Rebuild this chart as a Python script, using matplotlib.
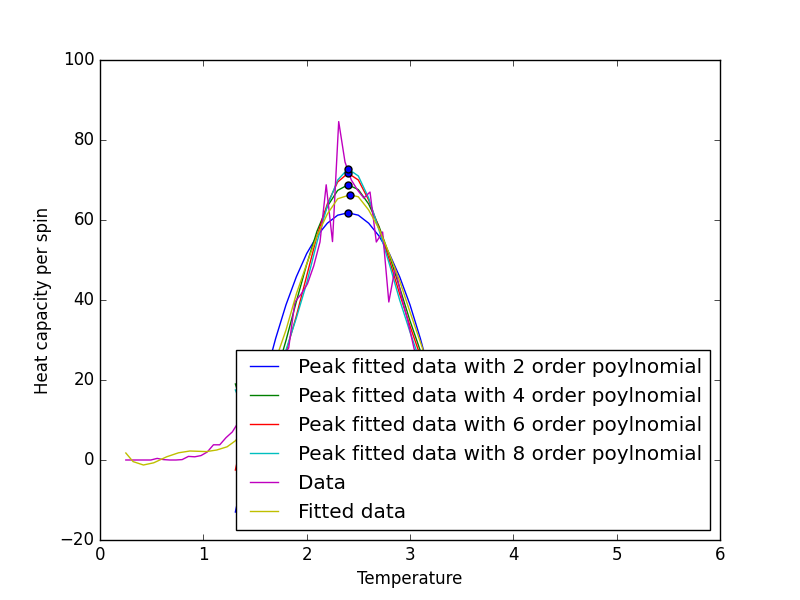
import matplotlib
matplotlib.use("Agg")
import matplotlib.pyplot as plt

plt.style.use("classic")

# Measured data (temperature grid and heat capacity per spin)
T_data = [0.25, 0.311, 0.371, 0.432, 0.492, 0.553, 0.614, 0.674, 0.735, 0.795,
          0.856, 0.917, 0.977, 1.038, 1.098, 1.159, 1.220, 1.280, 1.341, 1.401,
          1.462, 1.523, 1.583, 1.644, 1.704, 1.765, 1.826, 1.886, 1.947, 2.007,
          2.068, 2.129, 2.189, 2.250, 2.310, 2.371, 2.432, 2.492, 2.553, 2.613,
          2.674, 2.735, 2.795, 2.856, 2.916, 2.977, 3.038, 3.098, 3.159, 3.220,
          3.280, 3.341, 3.401, 3.462, 3.523, 3.583, 3.644, 3.704, 3.765, 3.826,
          3.886, 3.947, 4.007, 4.068, 4.129, 4.189, 4.250, 4.310, 4.371, 4.432,
          4.492]
C_data = [0.0, 0.0, 0.0, 0.0, 0.0, 0.4, 0.1, 0.0, 0.0, 0.1,
          0.9, 0.8, 1.1, 2.0, 3.8, 3.8, 5.6, 7.0, 9.5, 12.0,
          15.0, 17.0, 20.0, 22.0, 24.0, 26.0, 28.0, 39.5, 41.5, 44.0,
          48.5, 54.5, 68.8, 54.6, 84.6, 74.5, 70.0, 67.5, 65.5, 67.0,
          54.5, 57.0, 39.5, 48.0, 41.0, 35.0, 28.0, 22.0, 17.0, 12.0,
          8.0, 5.0, 3.5, 2.5, 2.0, 1.5, 1.2, 1.0, 0.8, 0.7,
          0.6, 0.5, 0.4, 0.4, 0.3, 0.3, 0.2, 0.2, 0.1, 0.1,
          0.1]

# Fitted curve over the full data range
T_full = [0.25, 0.32, 0.42, 0.52, 0.645, 0.76, 0.87, 1.03, 1.13, 1.23,
          1.31, 1.40, 1.50, 1.60, 1.70, 1.80, 1.90, 2.00, 2.10, 2.20,
          2.30, 2.42, 2.50, 2.60, 2.70, 2.80, 2.90, 3.00, 3.10, 3.20,
          3.30, 3.40, 3.50, 3.60, 3.80, 4.00, 4.20, 4.49]
C_full = [1.75, -0.4, -1.25, -0.7, 0.8, 1.8, 2.25, 2.1, 2.5, 3.3,
          4.8, 7.5, 12.0, 18.5, 25.0, 32.5, 41.5, 49.0, 56.0, 61.5,
          65.3, 66.3, 65.8, 62.5, 57.8, 51.5, 44.8, 37.0, 29.5, 22.0,
          15.0, 9.5, 5.5, 3.0, 1.0, 0.5, 0.8, 1.5]

# Peak-window polynomial fits
T_peak = [1.31, 1.40, 1.50, 1.60, 1.70, 1.80, 1.90, 2.00, 2.10, 2.20,
          2.30, 2.40, 2.50, 2.60, 2.70, 2.80, 2.90, 3.00, 3.10, 3.20,
          3.30, 3.40, 3.49]
C_fit2 = [-13.0, -2.2, 10.0, 20.8, 30.4, 38.8, 45.8, 51.6, 56.0, 59.2,
          61.2, 61.8, 61.2, 59.2, 56.0, 51.6, 45.8, 38.8, 30.4, 20.8,
          10.0, -2.2, -14.0]
C_fit4 = [19.0, 11.9, 10.5, 14.0, 21.0, 29.9, 39.6, 48.9, 57.2, 63.4,
          67.4, 68.8, 67.6, 64.0, 58.4, 51.2, 43.1, 34.8, 27.3, 21.8,
          17.0, 14.0, 15.0]
C_fit6 = [-2.5, 8.0, 12.0, 13.5, 18.0, 27.0, 36.0, 46.0, 56.0, 64.0,
          69.5, 71.7, 70.0, 65.0, 58.0, 50.0, 41.5, 33.5, 26.0, 19.0,
          14.0, 12.0, 10.0]
C_fit8 = [17.5, 12.0, 14.0, 17.0, 21.0, 27.5, 35.5, 44.2, 54.5, 63.5,
          70.0, 72.8, 71.0, 65.5, 57.5, 49.0, 40.0, 32.0, 24.5, 18.0,
          14.0, 15.0, 18.0]

# Peak positions found from each fit
peak_T = [2.40, 2.40, 2.40, 2.40, 2.42]
peak_C = [61.8, 68.8, 71.7, 72.8, 66.3]

labels = ["Peak fitted data with 2 order poylnomial",
          "Peak fitted data with 4 order poylnomial",
          "Peak fitted data with 6 order poylnomial",
          "Peak fitted data with 8 order poylnomial",
          "Data",
          "Fitted data"]

fig = plt.figure(figsize=(8, 6), dpi=100)
ax = fig.add_subplot(111)

ax.plot(T_peak, C_fit2, color="b", label=labels[0])
ax.plot(T_peak, C_fit4, color="g", label=labels[1])
ax.plot(T_peak, C_fit6, color="r", label=labels[2])
ax.plot(T_peak, C_fit8, color="c", label=labels[3])
ax.plot(T_data, C_data, color="m", label=labels[4])
ax.plot(T_full, C_full, color="y", label=labels[5])
ax.scatter(peak_T, peak_C, s=25, c="b", edgecolors="k", zorder=3)

ax.set_xlim(0, 6)
ax.set_ylim(-20, 100)
ax.set_xlabel("Temperature")
ax.set_ylabel("Heat capacity per spin")
ax.legend(loc="lower right", handletextpad=0.7)

fig.savefig("out.png", dpi=100)
